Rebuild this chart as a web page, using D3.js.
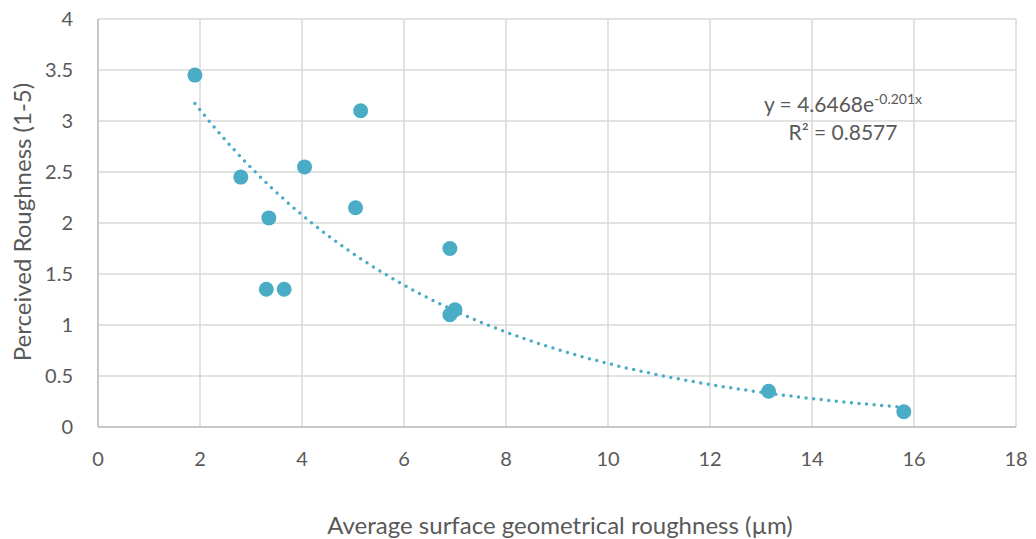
<!DOCTYPE html>
<html>
<head>
<meta charset="utf-8">
<script src="https://cdn.jsdelivr.net/npm/d3@7"></script>
<style>
  body { margin: 0; background: #fff; }
  text { font-family: Lato, "Open Sans", sans-serif; fill: #595959; }
</style>
</head>
<body>
<svg id="svg1"></svg>
<script>
// data
var roughX = [1.9, 2.8, 3.35, 3.3, 3.65, 4.05, 5.05, 5.15, 6.9, 6.9, 7.0, 13.15, 15.8];
var perceivedY = [3.45, 2.45, 2.05, 1.35, 1.35, 2.55, 2.15, 3.1, 1.75, 1.1, 1.15, 0.35, 0.15];
var xTicks = [0, 2, 4, 6, 8, 10, 12, 14, 16, 18];
var yTicks = [0, 0.5, 1, 1.5, 2, 2.5, 3, 3.5, 4];
// exponential trendline as labelled on the chart
var trendA = 4.6468, trendB = -0.201;

var margin = {top: 19, right: 20, bottom: 112, left: 98},
    width = 1036 - margin.left - margin.right,
    height = 539 - margin.top - margin.bottom;

var svg = d3.select("#svg1")
  .attr("width", 1036)
  .attr("height", 539)
  .append("g")
  .attr("transform", "translate(" + margin.left + "," + margin.top + ")");

var x = d3.scaleLinear().domain([0, 18]).range([0, width]);
var y = d3.scaleLinear().domain([0, 4]).range([height, 0]);

// gridlines
svg.append("g").selectAll("line")
  .data(xTicks)
  .enter().append("line")
  .attr("x1", function(d) { return x(d); })
  .attr("x2", function(d) { return x(d); })
  .attr("y1", 0).attr("y2", height)
  .style("stroke", "#d9d9d9").style("stroke-width", 1.5);

svg.append("g").selectAll("line")
  .data(yTicks)
  .enter().append("line")
  .attr("x1", 0).attr("x2", width)
  .attr("y1", function(d) { return y(d); })
  .attr("y2", function(d) { return y(d); })
  .style("stroke", "#d9d9d9").style("stroke-width", 1.5);

// axes lines (slightly darker)
svg.append("line")
  .attr("x1", 0).attr("x2", width).attr("y1", height).attr("y2", height)
  .style("stroke", "#bfbfbf").style("stroke-width", 1.5);
svg.append("line")
  .attr("x1", 0).attr("x2", 0).attr("y1", 0).attr("y2", height)
  .style("stroke", "#bfbfbf").style("stroke-width", 1.5);

// tick labels
svg.append("g").selectAll("text")
  .data(xTicks)
  .enter().append("text")
  .attr("x", function(d) { return x(d); })
  .attr("y", height + 39)
  .style("text-anchor", "middle")
  .style("font-size", "20px")
  .text(function(d) { return d; });

svg.append("g").selectAll("text")
  .data(yTicks)
  .enter().append("text")
  .attr("x", -25)
  .attr("y", function(d) { return y(d); })
  .attr("dy", "0.35em")
  .style("text-anchor", "end")
  .style("font-size", "20px")
  .text(function(d) { return d; });

// trendline
var trendPts = d3.range(d3.min(roughX), d3.max(roughX) + 0.001, 0.1).map(function(v) {
  return [v, trendA * Math.exp(trendB * v)];
});
svg.append("path")
  .datum(trendPts)
  .attr("d", d3.line()
    .x(function(d) { return x(d[0]); })
    .y(function(d) { return y(d[1]); }))
  .style("fill", "none")
  .style("stroke", "#4bacc6")
  .style("stroke-width", 3.5)
  .style("stroke-linecap", "round")
  .style("stroke-dasharray", "0 7.6");

// dots
svg.append("g").selectAll("circle")
  .data(roughX)
  .enter().append("circle")
  .attr("cx", function(d) { return x(d); })
  .attr("cy", function(d, i) { return y(perceivedY[i]); })
  .attr("r", 7.5)
  .style("fill", "#4bacc6");

// equation label
var eq = svg.append("text")
  .attr("x", 745).attr("y", 93)
  .style("text-anchor", "middle")
  .style("font-size", "21px");
eq.append("tspan").text("y = " + trendA + "e");
eq.append("tspan").attr("dy", -8).style("font-size", "14px").text(trendB + "x");

svg.append("text")
  .attr("x", 745).attr("y", 121)
  .style("text-anchor", "middle")
  .style("font-size", "21px")
  .text("R\u00b2 = 0.8577");

// axis titles
svg.append("text")
  .attr("x", width / 2 + 3)
  .attr("y", height + 107)
  .style("text-anchor", "middle")
  .style("font-size", "24px")
  .text("Average surface geometrical roughness (\u00b5m)");

svg.append("text")
  .attr("transform", "rotate(-90)")
  .attr("x", -203)
  .attr("y", -67)
  .style("text-anchor", "middle")
  .style("font-size", "24px")
  .text("Perceived Roughness (1-5)");
</script>
</body>
</html>
